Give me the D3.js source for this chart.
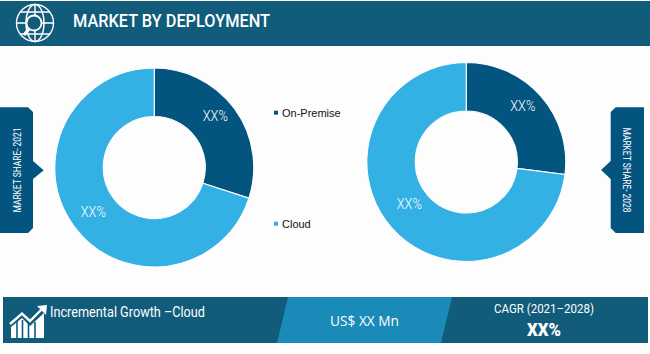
<!DOCTYPE html>
<html><head><meta charset="utf-8">
<script src="https://cdn.jsdelivr.net/npm/d3@7"></script>
<style>html,body{margin:0;padding:0;background:#fdfdfd}svg{display:block}</style>
</head><body><svg id="c" width="650" height="354"></svg>
<script>
const categories = ["On-Premise", "Cloud"];
const colors = ["#045480", "#33b0e4"];
const share2021 = [30, 70];
const share2028 = [27, 73];
const labels2021 = ["XX%", "XX%"];
const labels2028 = ["XX%", "XX%"];
const title = "MARKET BY DEPLOYMENT";
const sideLabels = ["MARKET SHARE- 2021", "MARKET SHARE- 2028"];
const footerLeft = "Incremental Growth –Cloud";
const footerMid = "US$ XX Mn";
const footerCagr = "CAGR (2021–2028)";
const footerCagrValue = "XX%";

const svg = d3.select("#c");
const sans = "Roboto,'Liberation Sans',sans-serif";
const head = "#105c7a";
svg.append("rect").attr("width",650).attr("height",354).attr("fill","#fdfdfd");

// header
svg.append("rect").attr("x",0).attr("y",1).attr("width",650).attr("height",45).attr("fill",head);
svg.append("text").attr("x",73).attr("y",27).attr("fill","#fff").attr("font-family",sans)
  .attr("font-weight",500).attr("font-size",18.5).attr("textLength",197).attr("lengthAdjust","spacingAndGlyphs").text(title);
const ic = svg.append("g").attr("fill","none").attr("stroke","#fff").attr("stroke-width",1.4);
ic.append("circle").attr("cx",35).attr("cy",23).attr("r",18.5);
ic.append("ellipse").attr("cx",35).attr("cy",23).attr("rx",9).attr("ry",18.5);
ic.append("path").attr("d","M20 12H50M17 23H53M20 34H50M35 5V41");
ic.append("circle").attr("cx",34).attr("cy",23).attr("r",7.5).attr("stroke-width",1.8).attr("fill",head);
ic.append("path").attr("d","M29 29L24 35").attr("stroke-width",3.2);

function donut(cx,cy,values,labels,labelPos){
  const g = svg.append("g").attr("transform",`translate(${cx},${cy})`);
  const pie = d3.pie().sort(null).value(d=>d)(values);
  const arc = d3.arc().innerRadius(51).outerRadius(99.5);
  g.selectAll("path").data(pie).join("path").attr("d",arc)
    .attr("fill",(d,i)=>colors[i]).attr("stroke","#fdfdfd").attr("stroke-width",1.2);
  g.selectAll("text").data(pie).join("text")
    .attr("x",(d,i)=>labelPos[i][0]).attr("y",(d,i)=>labelPos[i][1]+5)
    .attr("text-anchor","middle")
    .attr("font-family",sans).attr("font-weight",300).attr("font-size",14)
    .attr("textLength",25).attr("lengthAdjust","spacingAndGlyphs")
    .attr("fill","#fff").text((d,i)=>labels[i]);
}
donut(154.3,167.5,share2021,labels2021,[[61,-51.5],[-61,44.5]]);
donut(466.3,162,share2028,labels2028,[[56.5,-56],[-57,42]]);

// legend
const legY=[112.7,223.7];
categories.forEach((c,i)=>{
  svg.append("rect").attr("x",274).attr("y",legY[i]-2).attr("width",4).attr("height",4).attr("fill",colors[i]);
  svg.append("text").attr("x",282).attr("y",legY[i]+4).attr("font-family","'Liberation Sans',Arial,sans-serif")
    .attr("font-size",11).attr("fill","#111").text(c);
});

// side tags
svg.append("path").attr("d","M0 107.3H28L33 112V161L43.7 170.3L33 179V228L28 233H0Z").attr("fill","#045480");
svg.append("text").attr("transform","translate(21,170) rotate(-90)").attr("text-anchor","middle")
  .attr("font-family",sans).attr("font-size",11).attr("fill","#fff")
  .attr("textLength",85).attr("lengthAdjust","spacingAndGlyphs").text(sideLabels[0]);
svg.append("path").attr("d","M615.7 107.3H644V233H615.7L610.7 228V179L601 170L610.7 161V112Z").attr("fill","#045480");
svg.append("text").attr("transform","translate(623,170) rotate(90)").attr("text-anchor","middle")
  .attr("font-family",sans).attr("font-size",11).attr("fill","#fff")
  .attr("textLength",85).attr("lengthAdjust","spacingAndGlyphs").text(sideLabels[1]);

// footer
svg.append("rect").attr("x",3).attr("y",297).attr("width",645).attr("height",46).attr("fill",head);
svg.append("path").attr("d","M288 297H452L441 343H277Z").attr("fill","#1a8ab8");
svg.append("text").attr("x",50).attr("y",317).attr("fill","#fff").attr("font-family",sans).attr("font-weight",400).attr("font-size",14.5)
  .attr("textLength",155).attr("lengthAdjust","spacingAndGlyphs").text(footerLeft);
svg.append("text").attr("x",330).attr("y",326).attr("fill","#fff").attr("font-family","'Open Sans',sans-serif").attr("font-size",14)
  .attr("textLength",69).attr("lengthAdjust","spacingAndGlyphs").text(footerMid);
svg.append("text").attr("x",544).attr("y",313).attr("text-anchor","middle").attr("fill","#fff").attr("font-family",sans).attr("font-weight",400).attr("font-size",13.5)
  .attr("textLength",100).attr("lengthAdjust","spacingAndGlyphs").text(footerCagr);
svg.append("text").attr("x",544).attr("y",336).attr("text-anchor","middle").attr("fill","#fff").attr("font-family",sans).attr("font-weight",900).attr("font-size",18.5)
  .attr("textLength",34).attr("lengthAdjust","spacingAndGlyphs").text(footerCagrValue);

// footer growth icon
const gi = svg.append("g");
gi.append("path").attr("d","M11 338V327L22 318L30 326L44 313V338Z").attr("fill","#fff");
gi.append("path").attr("d","M17 320V338M22.5 320V338M28.5 322V338M35 322V338").attr("stroke",head).attr("stroke-width",1.6).attr("fill","none");
gi.append("path").attr("d","M10 325L22 314L30 322L43 309").attr("fill","none").attr("stroke",head).attr("stroke-width",2);
gi.append("path").attr("d","M10 324L22 313.5L30 321L42 309").attr("fill","none").attr("stroke","#fff").attr("stroke-width",2.4);
gi.append("path").attr("d","M37 306L47 305L46 315Z").attr("fill","#fff");
</script></body></html>
